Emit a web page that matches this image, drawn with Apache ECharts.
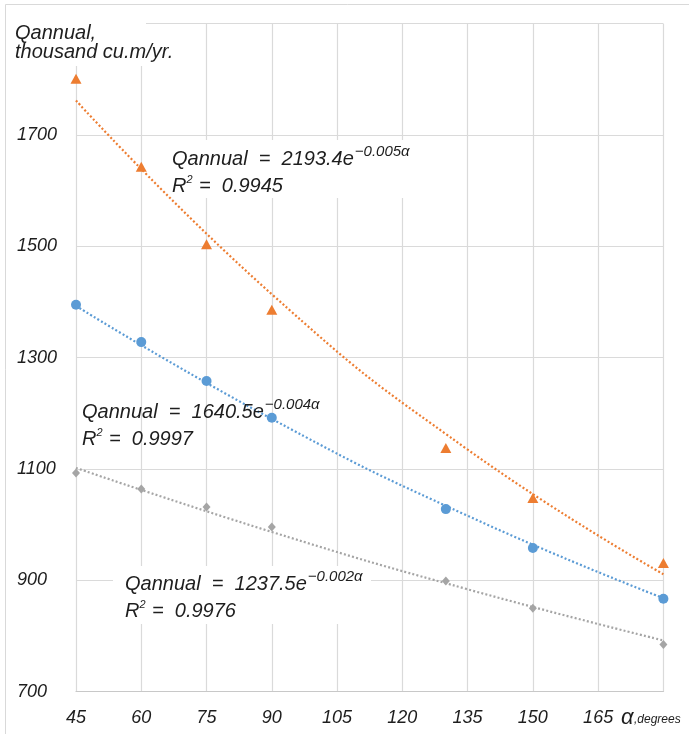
<!DOCTYPE html>
<html>
<head>
<meta charset="utf-8">
<script src="https://cdn.jsdelivr.net/npm/echarts@6/dist/echarts.min.js"></script>
<style>html,body{margin:0;padding:0;background:#fff}#c{width:689px;height:734px}</style>
</head>
<body>
<div id="c"></div>
<script>
// ---- data ----
const xAngles = [45, 60, 75, 90, 130, 150, 180];
const qOrange = [1801, 1643, 1504, 1386, 1138, 1048, 931];
const qBlue = [1395, 1328, 1258, 1192, 1028, 958, 867];
const qGray = [1093, 1064, 1032, 996, 899, 850, 785];
const trendX = [45, 90, 135, 180];
const trendOrange = [1762, 1414, 1135, 911];
const trendBlue = [1393, 1190, 1016, 868];
const trendGray = [1102, 987, 884, 792];
const xTickLabels = [45, 60, 75, 90, 105, 120, 135, 150, 165];
const yTickLabels = [700, 900, 1100, 1300, 1500, 1700];
const eqOrange = ['Qannual  =  2193.4e', '\u22120.005\u03b1', '0.9945'];
const eqBlue = ['Qannual  =  1640.5e', '\u22120.004\u03b1', '0.9997'];
const eqGray = ['Qannual  =  1237.5e', '\u22120.002\u03b1', '0.9976'];

const FF = '"Liberation Sans", Arial, sans-serif';
const TXT = '#1e1e1e';
const cOrange = '#ED7D31', cBlue = '#5B9BD5', cGray = '#A5A5A5';

const ctx = document.createElement('canvas').getContext('2d');
function tw(t, size) { ctx.font = 'italic ' + size + 'px ' + FF; return ctx.measureText(t).width; }

function pairs(xs, ys) { return xs.map((x, i) => [x, ys[i]]); }

function eqGraphics(x, y, eq, withBg, bgRect) {
  const els = [];
  if (withBg) {
    els.push({ type: 'rect', z: 1, shape: bgRect, style: { fill: '#fff' } });
  }
  const mainSize = 20, supSize = 15;
  const w = tw(eq[0], mainSize);
  els.push({ type: 'text', z: 3, x: x, y: y, style: { text: eq[0], font: 'italic ' + mainSize + 'px ' + FF, fill: TXT, verticalAlign: 'middle' } });
  els.push({ type: 'text', z: 3, x: x + w + 1, y: y - 7, style: { text: eq[1], font: 'italic ' + supSize + 'px ' + FF, fill: TXT, verticalAlign: 'middle' } });
  const y2 = y + 27;
  const wR = tw('R', mainSize);
  els.push({ type: 'text', z: 3, x: x, y: y2, style: { text: 'R', font: 'italic ' + mainSize + 'px ' + FF, fill: TXT, verticalAlign: 'middle' } });
  els.push({ type: 'text', z: 3, x: x + wR, y: y2 - 6, style: { text: '2', font: 'italic 11px ' + FF, fill: TXT, verticalAlign: 'middle' } });
  els.push({ type: 'text', z: 3, x: x + wR + 7, y: y2, style: { text: ' =  ' + eq[2], font: 'italic ' + mainSize + 'px ' + FF, fill: TXT, verticalAlign: 'middle' } });
  return els;
}

const chart = echarts.init(document.getElementById('c'), null, { renderer: 'canvas' });

const graphics = [].concat(
  [{ type: 'rect', z: 1, shape: { x: 0, y: 0, width: 146, height: 66 }, style: { fill: '#fff' } }],
  [{ type: 'rect', z: 4, shape: { x: 5.5, y: 4.5, width: 720, height: 760 }, style: { fill: null, stroke: '#d9d9d9', lineWidth: 1 } }],
  [{ type: 'text', z: 3, x: 15, y: 33, style: { text: 'Qannual,', font: 'italic 20px ' + FF, fill: TXT, verticalAlign: 'middle' } }],
  [{ type: 'text', z: 3, x: 15, y: 52, style: { text: 'thousand cu.m/yr.', font: 'italic 20px ' + FF, fill: TXT, verticalAlign: 'middle' } }],
  eqGraphics(172, 159, eqOrange, true, { x: 166, y: 140, width: 240, height: 58 }),
  eqGraphics(82, 412, eqBlue, false),
  eqGraphics(125, 584, eqGray, true, { x: 113, y: 566, width: 258, height: 58 }),
  [{ type: 'text', z: 3, x: 621, y: 718, style: { text: '\u03b1', font: 'italic 22px ' + FF, fill: TXT, verticalAlign: 'middle' } }],
  [{ type: 'text', z: 3, x: 634, y: 720, style: { text: ',degrees', font: 'italic 12px ' + FF, fill: TXT, verticalAlign: 'middle' } }]
);

const option = {
  backgroundColor: '#fff',
  animation: false,
  grid: { left: 76, right: 25.6, top: 23.7, bottom: 42.3, containLabel: false },
  xAxis: {
    type: 'value', min: 45, max: 180, interval: 15,
    axisLine: { show: true, lineStyle: { color: '#c8c8c8', width: 1.2 } },
    axisTick: { show: false },
    splitLine: { show: true, lineStyle: { color: '#dadada', width: 1.2 } },
    axisLabel: {
      margin: 17, color: TXT, fontFamily: FF, fontStyle: 'italic', fontSize: 18,
      formatter: v => (xTickLabels.indexOf(v) >= 0 ? String(v) : '')
    }
  },
  yAxis: {
    type: 'value', min: 700, max: 1900, interval: 200,
    axisLine: { show: false },
    axisTick: { show: false },
    splitLine: { show: true, lineStyle: { color: '#dadada', width: 1.2 } },
    axisLabel: {
      align: 'left', margin: 59, color: TXT, fontFamily: FF, fontStyle: 'italic', fontSize: 18,
      formatter: v => (yTickLabels.indexOf(v) >= 0 ? String(v) : '')
    }
  },
  graphic: { elements: graphics },
  series: [
    { type: 'line', data: pairs(trendOrange.map((_, i) => trendX[i]), trendOrange), smooth: true, showSymbol: false, z: 2,
      lineStyle: { color: cOrange, width: 2.2, type: [2, 2.2] } },
    { type: 'line', data: pairs(trendX, trendBlue), smooth: true, showSymbol: false, z: 2,
      lineStyle: { color: cBlue, width: 2.2, type: [2, 2.2] } },
    { type: 'line', data: pairs(trendX, trendGray), smooth: true, showSymbol: false, z: 2,
      lineStyle: { color: cGray, width: 2.2, type: [2, 2.2] } },
    { type: 'scatter', data: pairs(xAngles, qOrange), symbol: 'triangle', symbolSize: [11, 10], itemStyle: { color: cOrange, opacity: 1 }, z: 5 },
    { type: 'scatter', data: pairs(xAngles, qBlue), symbol: 'circle', symbolSize: 10, itemStyle: { color: cBlue, opacity: 1 }, z: 5 },
    { type: 'scatter', data: pairs(xAngles, qGray), symbol: 'diamond', symbolSize: [8, 9], itemStyle: { color: cGray, opacity: 1 }, z: 5 }
  ]
};
chart.setOption(option);
</script>
</body>
</html>
